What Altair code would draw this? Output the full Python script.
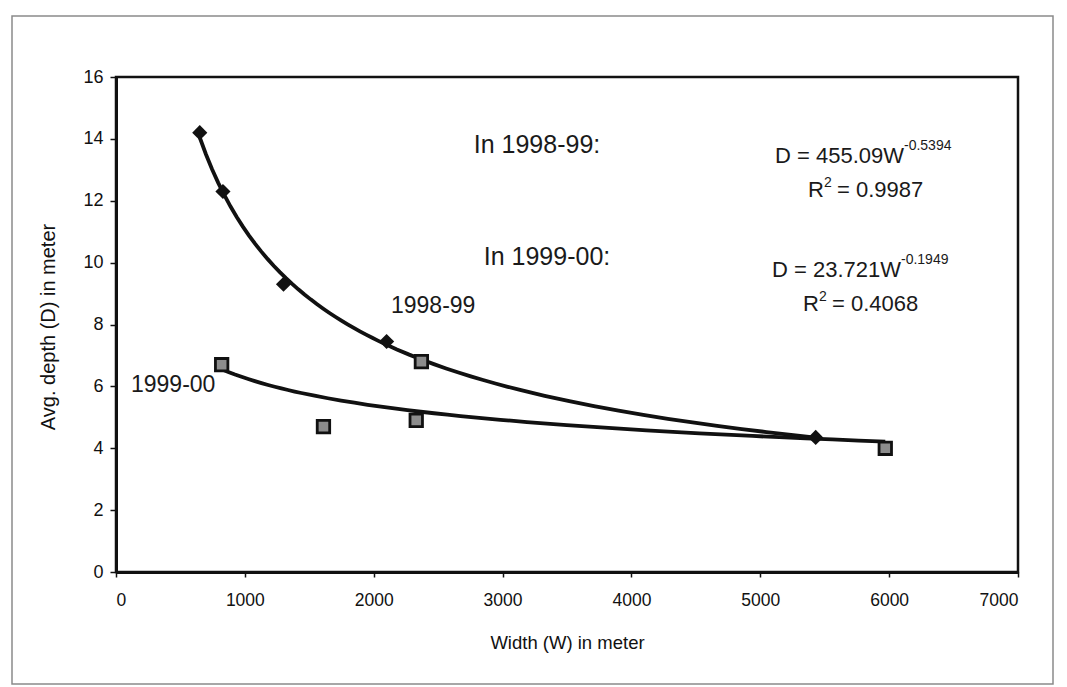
import altair as alt
import pandas as pd

# Data
width_9899 = [650, 830, 1300, 2100, 5430]
depth_9899 = [14.2, 12.3, 9.3, 7.45, 4.35]
width_9900 = [820, 1610, 2330, 2370, 5970]
depth_9900 = [6.7, 4.7, 4.9, 6.8, 4.0]
series_names = ["1998-99", "1999-00"]
x_ticks = [0, 1000, 2000, 3000, 4000, 5000, 6000, 7000]
y_ticks = [0, 2, 4, 6, 8, 10, 12, 14, 16]

df = pd.DataFrame({
    "W": width_9899 + width_9900,
    "D": depth_9899 + depth_9900,
    "series": [series_names[0]] * len(width_9899) + [series_names[1]] * len(width_9900),
})

FONT = "Liberation Sans"
LEFT, TOP, PW, PH = 116, 77, 902, 495

xs = alt.Scale(domain=[0, 7000], nice=False)
ys = alt.Scale(domain=[0, 16], nice=False)

x_axis = alt.Axis(
    values=x_ticks, title="Width (W) in meter", grid=False, format="d",
    domainColor="#111", domainWidth=3, tickColor="#111", tickSize=5, tickWidth=1.5,
    labelFontSize=17.5, labelFont=FONT, labelColor="#111", labelPadding=14,
    titleFont=FONT, titleFontSize=18.5, titleFontWeight="normal", titleColor="#111",
    titleX=451, titleY=70, titleBaseline="middle", titleAlign="center")
y_axis = alt.Axis(
    values=y_ticks, title="Avg. depth (D) in meter", grid=False,
    domainColor="#111", domainWidth=3, tickColor="#111", tickSize=6, tickWidth=1.5,
    labelFontSize=18, labelFont=FONT, labelColor="#111", labelPadding=7,
    titleFont=FONT, titleFontSize=20, titleFontWeight="normal", titleColor="#111",
    titleX=-68, titleY=PH / 2 + 2, titleBaseline="middle", titleAlign="center", titleAngle=270)

base = alt.Chart(df)

curves = base.transform_regression(
    "W", "D", method="pow", groupby=["series"]
).mark_line(color="#111", strokeWidth=3.8).encode(
    x=alt.X("W:Q", scale=xs, axis=x_axis),
    y=alt.Y("D:Q", scale=ys, axis=y_axis),
    detail="series:N")

diamonds = base.transform_filter(alt.datum.series == series_names[0]).mark_point(
    shape="diamond", filled=True, color="#111", size=230, opacity=1
).encode(x=alt.X("W:Q", scale=xs, axis=x_axis), y=alt.Y("D:Q", scale=ys, axis=y_axis))

squares = base.transform_filter(alt.datum.series == series_names[1]).mark_point(
    shape="square", filled=True, fill="#8c8c8c", stroke="#111", strokeWidth=2.8,
    size=155, opacity=1, fillOpacity=1
).encode(x=alt.X("W:Q", scale=xs, axis=x_axis), y=alt.Y("D:Q", scale=ys, axis=y_axis))

one = alt.Data(values=[{"k": 0}])


def label(txt, px, py, size, align="left"):
    return alt.Chart(one).mark_text(
        text=txt, font=FONT, fontSize=size, color="#1a1a1a", align=align,
        baseline="alphabetic"
    ).encode(x=alt.value(px - LEFT), y=alt.value(py - TOP))


texts = [
    label("In 1998-99:", 537, 153, 25, "center"),
    label("In 1999-00:", 547, 265, 25, "center"),
    label("D = 455.09W", 775, 163, 22),
    label("-0.5394", 904, 150, 14),
    label("R", 808, 197, 22),
    label("2", 824, 187, 14),
    label("= 0.9987", 837, 197, 22),
    label("D = 23.721W", 772, 277, 22),
    label("-0.1949", 901, 264, 14),
    label("R", 803, 311, 22),
    label("2", 819, 301, 14),
    label("= 0.4068", 832, 311, 22),
    label("1998-99", 391, 313, 23),
    label("1999-00", 131, 392, 23),
]

frame = alt.Chart(one).mark_rect(
    fill="transparent", stroke="#8a8a8a", strokeWidth=1.5
).encode(x=alt.value(12 - LEFT), x2=alt.value(1053 - LEFT),
         y=alt.value(16 - TOP), y2=alt.value(684 - TOP))

chart = alt.layer(frame, curves, diamonds, squares, *texts).properties(
    width=PW, height=PH,
    autosize=alt.AutoSizeParams(type="none"),
    padding={"left": LEFT, "top": TOP, "right": 1067 - LEFT - PW, "bottom": 687 - TOP - PH},
    background="white",
).configure_view(stroke="#111", strokeWidth=2.5)

chart.save("out.html", embed_options={"renderer": "svg", "actions": False})
